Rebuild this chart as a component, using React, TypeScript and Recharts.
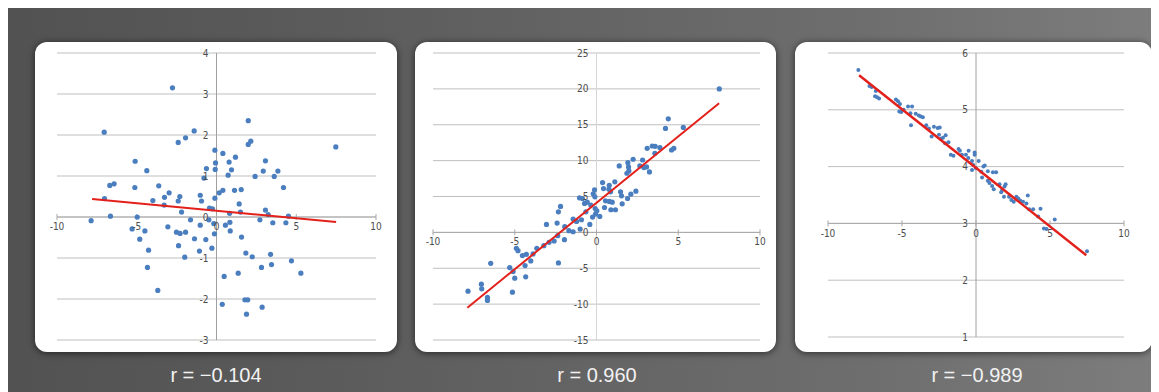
import React from 'react';
import { ScatterChart, Scatter, XAxis, YAxis, ReferenceLine, ReferenceDot } from 'recharts';

type Pt = [number, number];

const xTicks = [-10, -5, 0, 5, 10];
const panel1YTicks = [-3, -2, -1, 0, 1, 2, 3, 4];
const panel2YTicks = [-15, -10, -5, 0, 5, 10, 15, 20, 25];
const panel3YTicks = [1, 2, 3, 4, 5, 6];

const rLabels = ['r = \u22120.104', 'r = 0.960', 'r = \u22120.989'];

const panel1Points: Pt[] = [
  [-2.76, 3.15], [-7.04, 2.07], [1.99, 2.35], [7.48, 1.71], [-1.4, 2.1], [-1.94, 1.93], [-2.4, 1.82], [1.99, 1.77], [2.15, 1.85], [-0.1, 1.63],
  [0.4, 1.55], [1.19, 1.46], [-5.1, 1.36], [0.79, 1.34], [-0.06, 1.32], [3.07, 1.37], [-0.63, 1.18], [-0.08, 1.16], [0.94, 1.15], [-4.37, 1.13],
  [2.93, 1.12], [3.85, 1.12], [0.73, 1.02], [2.42, 0.99], [3.62, 0.99], [-0.79, 0.95], [-6.42, 0.81], [-6.69, 0.77], [-3.62, 0.76], [-5.12, 0.72],
  [4.2, 0.72], [0.4, 0.65], [1.13, 0.65], [1.55, 0.67], [-2.97, 0.59], [0.17, 0.59], [-1.02, 0.53], [-3.26, 0.48], [-2.3, 0.5], [-0.1, 0.46],
  [-7.02, 0.45], [-3.99, 0.4], [-2.4, 0.39], [-0.94, 0.39], [1.42, 0.32], [-3.28, 0.29], [-0.44, 0.22], [-0.25, 0.2], [3.07, 0.17], [-2.19, 0.12],
  [0.82, 0.09], [1.5, 0.12], [3.24, 0.06], [4.51, 0.02], [-6.65, 0.02], [-4.97, 0.0], [-7.86, -0.09], [-1.63, -0.07], [-0.48, -0.07], [2.72, -0.07],
  [-0.17, -0.16], [0.84, -0.13], [3.53, -0.14], [4.35, -0.14], [-1.02, -0.2], [0.56, -0.2], [-3.05, -0.24], [-5.29, -0.29], [-4.49, -0.34], [0.86, -0.34],
  [-2.51, -0.37], [-2.28, -0.4], [-1.94, -0.37], [-0.13, -0.41], [-4.81, -0.54], [-1.38, -0.53], [-0.67, -0.55], [1.57, -0.49], [-2.38, -0.7], [-0.29, -0.76],
  [-4.26, -0.81], [-1.07, -0.83], [1.84, -0.88], [2.24, -0.97], [-1.99, -0.98], [3.39, -0.91], [4.7, -1.07], [-4.33, -1.23], [3.45, -1.16], [2.82, -1.23],
  [1.36, -1.37], [5.29, -1.37], [0.48, -1.45], [-3.68, -1.79], [0.36, -2.13], [1.78, -2.02], [1.96, -2.02], [2.86, -2.2], [1.88, -2.37],
];

const panel2Points: Pt[] = [
  [7.51, 20.0], [4.39, 15.83], [4.22, 14.49], [5.31, 14.63], [3.1, 11.71], [3.41, 12.04], [3.59, 11.99], [3.88, 11.81], [3.57, 11.02], [4.59, 11.48],
  [4.73, 11.71], [2.24, 10.19], [1.92, 9.72], [1.39, 9.26], [2.82, 10.09], [3.06, 9.12], [3.24, 8.43], [2.9, 9.03], [1.96, 9.12], [1.86, 8.24],
  [1.98, 8.56], [2.65, 9.26], [0.37, 6.94], [0.78, 6.57], [1.12, 7.04], [0.43, 6.11], [-0.12, 5.93], [1.47, 5.65], [2.41, 5.74], [2.1, 5.32],
  [1.53, 5.09], [1.9, 4.72], [0.76, 6.02], [-0.2, 5.37], [-0.1, 4.95], [-1.04, 4.81], [-0.86, 4.72], [0.86, 5.65], [0.55, 4.4], [0.78, 4.31],
  [0.96, 4.21], [1.57, 3.98], [0.49, 3.47], [0.88, 3.15], [1.16, 3.15], [-0.57, 4.21], [-0.73, 4.03], [-0.35, 3.8], [-0.08, 3.33], [0.02, 3.01],
  [-0.65, 2.87], [0.2, 2.22], [-0.24, 2.13], [-0.06, 2.55], [-0.41, 1.11], [-0.92, 1.76], [-1.0, 0.46], [-2.2, 3.61], [-2.33, 2.87], [-3.06, 1.11],
  [-2.41, 1.3], [-1.43, 1.85], [-1.22, 1.53], [-1.94, 0.79], [-1.69, 0.23], [-1.43, 0.09], [-2.37, -0.46], [-1.96, -1.02], [-2.59, -1.2], [-2.9, -1.39],
  [-3.22, -1.85], [-3.65, -2.22], [-3.88, -3.01], [-4.29, -3.06], [-4.53, -3.24], [-4.8, -2.55], [-4.9, -2.22], [-4.02, -3.98], [-4.37, -4.63], [-2.33, -4.26],
  [-5.31, -4.91], [-5.1, -5.46], [-5.0, -6.39], [-4.33, -6.2], [-6.47, -4.31], [-7.04, -7.22], [-7.02, -7.87], [-6.67, -9.07], [-6.67, -9.49], [-5.14, -8.33],
  [-7.86, -8.19],
];

const panel3Points: Pt[] = [
  [-7.95, 5.7], [-7.2, 5.42], [-7.05, 5.4], [-6.77, 5.33], [-6.82, 5.24], [-6.68, 5.22], [-6.55, 5.2], [-5.41, 5.18], [-5.27, 5.15], [-5.14, 5.1],
  [-5.18, 4.97], [-5.05, 4.96], [-4.89, 5.0], [-4.59, 5.06], [-4.32, 5.06], [-4.43, 4.94], [-4.39, 4.73], [-4.07, 4.93], [-3.86, 4.9], [-3.73, 4.88],
  [-3.59, 4.87], [-3.36, 4.73], [-3.18, 4.67], [-3.0, 4.53], [-2.84, 4.7], [-2.59, 4.68], [-2.45, 4.69], [-2.5, 4.56], [-2.36, 4.49], [-2.23, 4.51],
  [-2.05, 4.55], [-2.09, 4.41], [-1.86, 4.43], [-1.7, 4.21], [-1.52, 4.19], [-1.18, 4.31], [-1.09, 4.28], [-0.95, 4.21], [-0.68, 4.21], [-0.5, 4.28],
  [-0.52, 4.15], [-0.27, 4.1], [-0.09, 4.25], [-0.09, 4.21], [-0.18, 4.03], [-0.27, 3.94], [0.0, 3.97], [0.18, 4.1], [0.36, 3.91], [0.5, 4.0],
  [0.59, 4.02], [0.41, 3.81], [0.8, 3.92], [0.8, 3.75], [0.91, 3.71], [1.14, 3.9], [1.36, 3.9], [1.09, 3.66], [1.2, 3.6], [1.59, 3.69],
  [1.7, 3.55], [1.77, 3.59], [1.93, 3.65], [2.0, 3.69], [1.89, 3.47], [2.23, 3.47], [2.39, 3.41], [2.55, 3.38], [2.73, 3.47], [2.86, 3.44],
  [3.0, 3.4], [3.18, 3.38], [3.41, 3.35], [3.5, 3.49], [3.59, 3.25], [3.86, 3.25], [4.36, 3.26], [4.2, 3.12], [4.59, 2.91], [4.77, 2.9],
  [5.32, 3.07], [7.5, 2.51],
];

const panel1Fit: Pt[] = [[-7.8, 0.44], [7.5, -0.12]];
const panel2Fit: Pt[] = [[-7.9, -10.5], [7.5, 18.0]];
const panel3Fit: Pt[] = [[-7.9, 5.61], [7.45, 2.44]];

const toObj = (arr: Pt[]) => arr.map(([x, y]) => ({ x, y }));

const tickFont = "'Liberation Sans Narrow', 'DejaVu Sans Condensed', 'Liberation Sans', Arial, sans-serif";

type PanelProps = {
  points: Pt[];
  fit: Pt[];
  yTicks: number[];
  xAxisAt: number;
  width: number;
  height: number;
  margin: { top: number; right: number; bottom: number; left: number };
  dotR: number;
  lineW: number;
  vAxisColor: string;
};

function Panel(props: PanelProps) {
  const { points, fit, yTicks, xAxisAt, width, height, margin, dotR, lineW, vAxisColor } = props;
  const yDomain: [number, number] = [yTicks[0], yTicks[yTicks.length - 1]];
  const labelStyle = { fill: '#4d4d4d', fontSize: 10, fontFamily: tickFont };
  return (
    <ScatterChart width={width} height={height} margin={margin}>
      <XAxis type="number" dataKey="x" domain={[-10, 10]} ticks={xTicks} hide allowDataOverflow />
      <YAxis type="number" dataKey="y" domain={yDomain} ticks={yTicks} hide allowDataOverflow />
      {yTicks.map((t) => (
        <ReferenceLine key={'g' + t} y={t} stroke="#bfbfbf" strokeWidth={1} ifOverflow="visible" />
      ))}
      <ReferenceLine x={0} stroke={vAxisColor} strokeWidth={1} ifOverflow="visible" />
      <ReferenceLine y={xAxisAt} stroke="#a8a8a8" strokeWidth={1} ifOverflow="visible" />
      {yTicks.map((t) => (
        <ReferenceDot
          key={'yl' + t}
          x={0}
          y={t}
          r={0}
          fill="none"
          stroke="none"
          ifOverflow="visible"
          label={{ value: String(t), position: 'left', offset: 8, ...labelStyle }}
        />
      ))}
      {xTicks.map((t) => (
        <ReferenceDot
          key={'xl' + t}
          x={t}
          y={xAxisAt}
          r={0}
          ifOverflow="visible"
          shape={(p: any) => (
            <line x1={p.cx} x2={p.cx} y1={p.cy - 3} y2={p.cy + 3} stroke="#a8a8a8" strokeWidth={1} />
          )}
          label={{ value: String(t), position: 'bottom', offset: 6, ...labelStyle }}
        />
      ))}
      <Scatter
        data={toObj(points)}
        fill="#4a7ebf"
        isAnimationActive={false}
        shape={(p: any) => <circle cx={p.cx} cy={p.cy} r={dotR} fill="#4a7ebf" />}
      />
      <Scatter
        data={toObj(fit)}
        fill="none"
        isAnimationActive={false}
        line={{ stroke: '#e3201b', strokeWidth: lineW }}
        shape={() => <g />}
      />
    </ScatterChart>
  );
}

const panelBox: React.CSSProperties = {
  position: 'absolute',
  top: 34,
  height: 310,
  background: '#ffffff',
  borderRadius: 12,
  boxShadow: '0 1px 7px rgba(0,0,0,0.6)',
};

const labelBox: React.CSSProperties = {
  position: 'absolute',
  top: 355,
  width: 200,
  height: 24,
  lineHeight: '24px',
  textAlign: 'center',
  color: '#f2f2f2',
  fontSize: 20,
  fontFamily: "'Liberation Sans', Arial, sans-serif",
};

export default function App() {
  return (
    <div
      style={{
        position: 'relative',
        width: 1151,
        height: 384,
        overflow: 'hidden',
        background:
          'linear-gradient(90deg, #525252 0%, #5a5a5a 25%, #646464 50%, #6e6e6e 75%, #7d7d7d 100%)',
      }}
    >
      <div style={{ ...panelBox, left: 27, width: 362 }}>
        <Panel
          points={panel1Points}
          fit={panel1Fit}
          yTicks={panel1YTicks}
          xAxisAt={0}
          width={362}
          height={310}
          margin={{ top: 11, right: 21, bottom: 12, left: 22 }}
          dotR={2.6}
          lineW={2}
          vAxisColor="#a0a0a0"
        />
      </div>
      <div style={{ ...panelBox, left: 407, width: 361 }}>
        <Panel
          points={panel2Points}
          fit={panel2Fit}
          yTicks={panel2YTicks}
          xAxisAt={0}
          width={361}
          height={310}
          margin={{ top: 11, right: 16, bottom: 12, left: 18 }}
          dotR={2.6}
          lineW={2}
          vAxisColor="#d6d6d6"
        />
      </div>
      <div style={{ ...panelBox, left: 787, width: 357 }}>
        <Panel
          points={panel3Points}
          fit={panel3Fit}
          yTicks={panel3YTicks}
          xAxisAt={3}
          width={357}
          height={310}
          margin={{ top: 11, right: 28, bottom: 15, left: 33 }}
          dotR={2}
          lineW={2.5}
          vAxisColor="#a0a0a0"
        />
      </div>
      <div style={{ ...labelBox, left: 108 }}>{rLabels[0]}</div>
      <div style={{ ...labelBox, left: 489 }}>{rLabels[1]}</div>
      <div style={{ ...labelBox, left: 869 }}>{rLabels[2]}</div>
    </div>
  );
}
